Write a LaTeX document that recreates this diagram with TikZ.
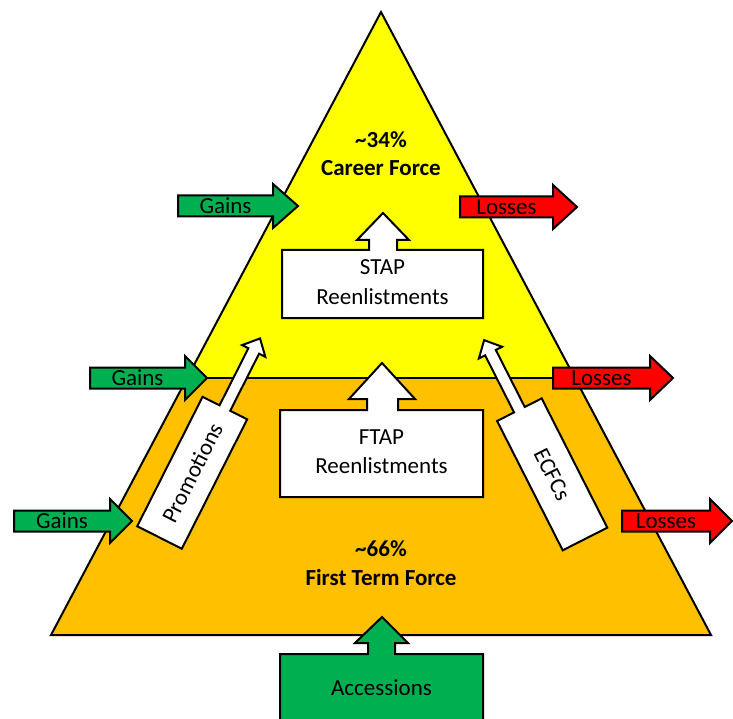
\documentclass[tikz,border=0pt]{standalone}
\usepackage{fontspec}
\setmainfont{Carlito}
\usetikzlibrary{calc}
\definecolor{gainsgreen}{HTML}{00B050}
\definecolor{lossred}{HTML}{FF0000}
\definecolor{careeryellow}{HTML}{FFFF00}
\definecolor{firstorange}{HTML}{FFC000}

% horizontal flow arrow: name, fill, body left x, head base x, tip x, centre y, label
\newcommand{\sidearrow}[7]{%
  \draw[outline, fill=#2] (#3,#6-10.5) -- (#4,#6-10.5) -- (#4,#6-22) -- (#5,#6)
    -- (#4,#6+22) -- (#4,#6+10.5) -- (#3,#6+10.5) -- cycle;
  \node[lbl] (#1) at ({(#3+#4)/2},#6+7.5) {#7};}

\begin{document}
\begin{tikzpicture}[x=1pt, y=-1pt,
  outline/.style={draw=black, line width=2pt, line join=miter},
  lbl/.style={font=\fontsize{23}{28}\selectfont, inner sep=0pt, anchor=base},
  boldlbl/.style={lbl, font=\fontsize{23}{28}\selectfont\bfseries},
  slanted/.style={font=\fontsize{23}{28}\selectfont, inner sep=0pt, anchor=center}]

\useasboundingbox (0,0) rectangle (733,719);

% the force pyramid
\coordinate (apex) at (381,12);
\coordinate (bl) at (51,635);
\coordinate (br) at (711,635);
\coordinate (ml) at ($(apex)!0.5875!(bl)$);
\coordinate (mr) at ($(apex)!0.5875!(br)$);
\fill[careeryellow] (apex) -- (bl) -- (br) -- cycle;
\fill[firstorange] (ml) -- (bl) -- (br) -- (mr) -- cycle;
\draw[outline] (ml) -- (mr);
\draw[outline] (apex) -- (bl) -- (br) -- cycle;

% tier labels
\node[boldlbl] (careerpct) at (381,148) {\textasciitilde34\%};
\node[boldlbl] (career) at (381,176) {Career Force};
\node[boldlbl] (firstpct) at (381,556) {\textasciitilde66\%};
\node[boldlbl] (first) at (381,585) {First Term Force};

% STAP reenlistments callout
\draw[outline, fill=white] (282,318) -- (282,250) -- (369,250) -- (369,240) -- (357,240)
  -- (383,213) -- (409,240) -- (397,240) -- (397,250) -- (483,250) -- (483,318) -- cycle;
\node[lbl] (stap) at (382.5,275) {STAP};
\node[lbl] (stapre) at (382.5,304) {Reenlistments};

% FTAP reenlistments callout
\draw[outline, fill=white] (280,497) -- (280,410) -- (367,410) -- (367,399) -- (349,399)
  -- (382,363) -- (415,399) -- (398,399) -- (398,410) -- (483,410) -- (483,497) -- cycle;
\node[lbl] (ftap) at (381.5,444) {FTAP};
\node[lbl] (ftapre) at (381.5,473) {Reenlistments};

% accessions entering at the base
\draw[outline, fill=gainsgreen] (280,730) -- (280,654) -- (368,654) -- (368,643) -- (355,643)
  -- (382,617) -- (408,643) -- (395,643) -- (395,654) -- (483,654) -- (483,730) -- cycle;
\node[lbl] (acc) at (381.5,695) {Accessions};

% promotions into the career force
\begin{scope}[shift={(159.5,537.5)}, rotate=-26.8]
  \draw[outline, fill=white] (-25,0) -- (-25,-145) -- (-6,-145) -- (-6,-209) -- (-13,-209)
    -- (0,-223) -- (13,-209) -- (6,-209) -- (6,-145) -- (25,-145) -- (25,0) -- cycle;
  \node[slanted, rotate=63.2] (promo) at (0,-72.5) {Promotions};
\end{scope}

% ECFCs into the career force
\begin{scope}[shift={(585,539)}, rotate=26.9]
  \draw[outline, fill=white] (-25,0) -- (-25,-145) -- (-6,-145) -- (-6,-209) -- (-13,-209)
    -- (0,-223) -- (13,-209) -- (6,-209) -- (6,-145) -- (25,-145) -- (25,0) -- cycle;
  \node[slanted, rotate=-63.1] (ecfc) at (0,-72.5) {ECFCs};
\end{scope}

% gains and losses at each level
\sidearrow{gainstop}{gainsgreen}{178}{273}{298}{206}{Gains}
\sidearrow{losstop}{lossred}{460}{553}{577}{207}{Losses}
\sidearrow{gainsmid}{gainsgreen}{90}{185}{207}{378}{Gains}
\sidearrow{lossmid}{lossred}{553}{650}{673}{378}{Losses}
\sidearrow{gainslow}{gainsgreen}{14}{110}{132}{521}{Gains}
\sidearrow{losslow}{lossred}{622}{710}{732}{521}{Losses}

\end{tikzpicture}
\end{document}
